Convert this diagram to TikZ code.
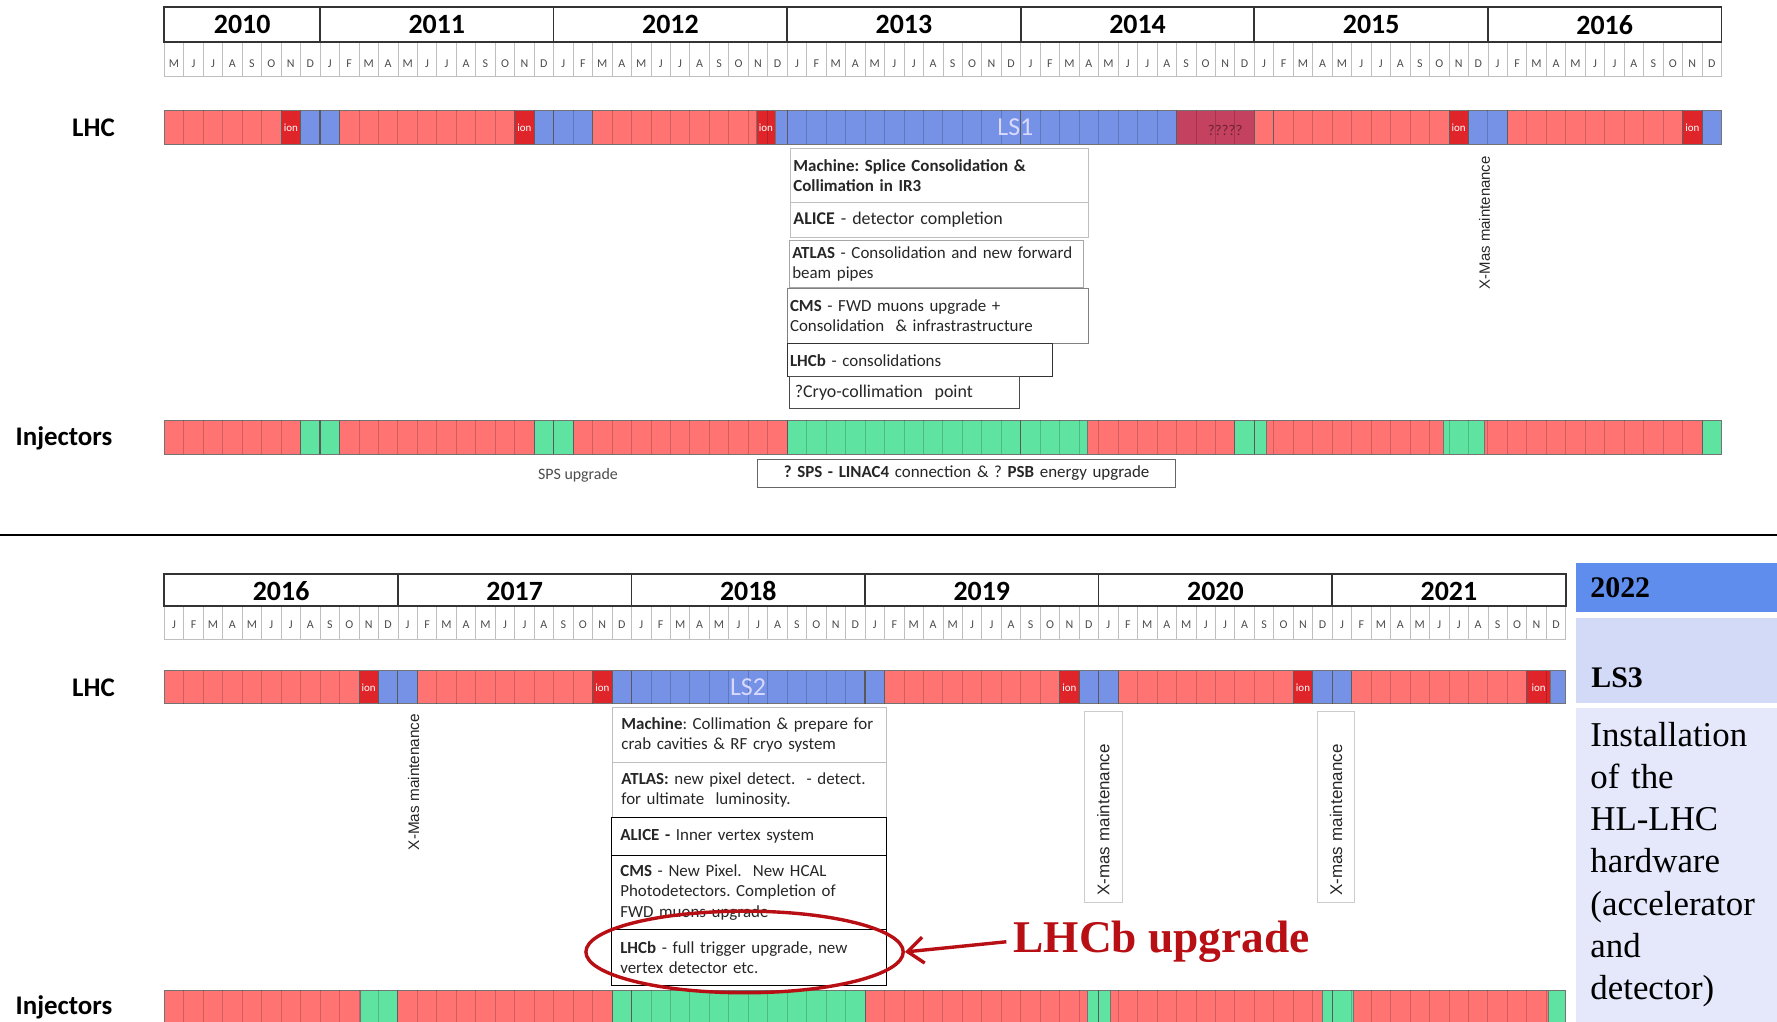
\documentclass[tikz,border=0pt]{standalone}
\usepackage{fontspec}
\setmainfont{Carlito}
\newfontfamily\timesfam{Liberation Serif}
\newfontfamily\arialfam{Liberation Sans}
\usetikzlibrary{shapes.geometric,arrows.meta}
\frenchspacing

\definecolor{runred}{HTML}{FF7373}
\definecolor{ionred}{HTML}{E0252A}
\definecolor{stopblue}{HTML}{7592E6}
\definecolor{injgreen}{HTML}{5FE3A1}
\definecolor{unkred}{HTML}{C4415F}
\definecolor{markred}{HTML}{B80F14}
\definecolor{lsblue}{HTML}{5F8DEE}
\definecolor{lspale}{HTML}{D3DAF7}
\definecolor{lspaler}{HTML}{E4E8FA}

\newcommand{\notefont}{\fontsize{8.5}{10.2}\selectfont}
\def\mlist{J,F,M,A,M,J,J,A,S,O,N,D}

\begin{document}
\begin{tikzpicture}[x=0.2mm,y=-0.2mm,
  run/.style={fill=runred,draw=black!55,line width=0.15mm},
  ion/.style={fill=ionred,draw=black!55,line width=0.15mm},
  tech/.style={fill=stopblue,draw=black!55,line width=0.15mm},
  inj/.style={fill=injgreen,draw=black!55,line width=0.15mm},
  unk/.style={fill=unkred,draw=black!55,line width=0.15mm},
  gridln/.style={black,opacity=0.18,line width=0.15mm},
  yearln/.style={black!65,line width=0.2mm},
  rowlab/.style={font=\fontsize{13.5}{15}\selectfont\bfseries},
  yearlab/.style={font=\fontsize{14}{15}\selectfont\bfseries},
  monthlab/.style={font=\fontsize{6}{7}\selectfont,text=black!70,inner sep=0},
  ionlab/.style={font=\fontsize{5.5}{6}\selectfont,text=white,inner sep=0},
  lslab/.style={font=\fontsize{13}{14}\selectfont,text=blue!15!white},
  note/.style={draw=black!35,anchor=north west,inner xsep=1.5pt,inner ysep=1pt,
    align=left,font=\notefont,text=black!85},
  noteb/.style={note,inner xsep=1.6mm},
  xmas/.style={rotate=90,font=\arialfam\fontsize{7.5}{9}\selectfont,text=black!85},
  xmasbox/.style={xmas,draw=black!20,font=\arialfam\fontsize{8.5}{10}\selectfont,
    minimum width=33.4mm,minimum height=6.6mm,text width=31.4mm,align=left}]
\useasboundingbox (0,0) rectangle (1568,901);
\clip (0,0) rectangle (1568,901);
\def\xo{145}
\def\mw{17.175}

% ---------------- 2010 - 2016 ----------------
\draw[black!25] (\xo,37) rectangle ({\xo+80*\mw},67.5);
\foreach \i in {1,...,79}
  \draw[black!25] ({\xo+\i*\mw},37) -- ++(0,30.5);
\draw[black!80,line width=0.35mm] (\xo,6.5) rectangle ({\xo+80*\mw},37);
\foreach \i in {8,20,...,68}
  \draw[black!80,line width=0.3mm] ({\xo+\i*\mw},6.5) -- ++(0,30.5);
\node[yearlab] (yt2010) at ({\xo+4*\mw},22) {2010};
\foreach \yr [count=\k from 0] in {2011,...,2016}
  \node[yearlab] (yt\yr) at ({\xo+(14+12*\k)*\mw},22) {\yr};
\foreach \m [count=\i from 0] in {M,J,J,A,S,O,N,D}
  \node[monthlab] (mt0-\i) at ({\xo+(\i+0.5)*\mw},56) {\m};
\foreach \k in {1,...,6}
  \foreach \m [count=\i from 0] in \mlist
    \node[monthlab] (mt\k-\i) at ({\xo+(12*\k-4+\i+0.5)*\mw},56) {\m};

\node[rowlab] (lhct) at (82.5,113) {LHC};
\node[rowlab] (injt) at (56.5,387) {Injectors};

% LHC bar
\foreach \a/\b/\s in {0/6/run,6/7/ion,7/9/tech,9/18/run,18/19/ion,19/22/tech,
    22/30.4/run,30.4/31.4/ion,31.4/52/tech,52/56/unk,56/57/run,57/66/run,
    66/67/ion,67/69/tech,69/78/run,78/79/ion,79/80/tech}
  \draw[\s] ({\xo+\a*\mw},97.5) rectangle ({\xo+\b*\mw},127.5);
\foreach \i in {1,...,79}
  \draw[gridln] ({\xo+\i*\mw},97.5) -- ++(0,30);
\foreach \i in {8,20,32,44}
  \draw[yearln] ({\xo+\i*\mw},97.5) -- ++(0,30);
\foreach \c [count=\n] in {6.5,18.5,30.9,66.5,78.5}
  \node[ionlab] (iont\n) at ({\xo+\c*\mw},112.5) {ion};
\node[lslab] (ls1) at (896,112) {LS1};
\node[font=\fontsize{7.5}{8}\selectfont,text=unkred!55!black] (unkt) at ({\xo+54.5*\mw},115) {?????};

% injectors bar
\foreach \a/\b/\s in {0/7/run,7/9/inj,9/19/run,19/21/inj,21/32/run,32/47.4/inj,
    47.4/55/run,55/56.6/inj,56.6/65.7/run,65.7/67.8/inj,67.8/79/run,79/80/inj}
  \draw[\s] ({\xo+\a*\mw},371) rectangle ({\xo+\b*\mw},401);
\foreach \i in {1,...,79}
  \draw[gridln] ({\xo+\i*\mw},371) -- ++(0,30);
\foreach \i in {8,20,32,44,56}
  \draw[yearln] ({\xo+\i*\mw},371) -- ++(0,30);

% LS1 work list
\node[note,draw=black!25,minimum width=52.6mm,text width=51.5mm,minimum height=9.4mm]
  (mach1) at (697,131) {\textbf{Machine: Splice Consolidation \&}\\\textbf{Collimation in IR3}};
\node[note,draw=black!25,minimum width=52.6mm,text width=51.5mm,minimum height=6.2mm,
  font=\fontsize{9}{10.5}\selectfont] (alice1) at (697,178) {\textbf{ALICE} - detector completion};
\node[note,minimum width=52mm,text width=50.9mm,minimum height=8.2mm]
  (atlas1) at (696,212) {\textbf{ATLAS} - Consolidation and new forward\\beam pipes};
\node[note,draw=black!50,minimum width=53.2mm,text width=52.1mm,minimum height=9.8mm]
  (cms1) at (694,254) {\textbf{CMS} - FWD muons upgrade +\\Consolidation\ \ \& infrastrastructure};
\node[note,draw=black!80,minimum width=46.8mm,text width=45.7mm,minimum height=5.8mm]
  (lhcb1) at (694,303) {\textbf{LHCb} - consolidations};
\node[note,draw=black!70,minimum width=40.6mm,text width=38.6mm,inner xsep=1mm,minimum height=5.6mm,
  font=\fontsize{9}{10.5}\selectfont] (cryo1) at (696,332) {?Cryo-collimation\ \ point};
\node[note,draw=black!60,minimum width=73.8mm,text width=72.7mm,minimum height=5mm,align=center]
  (linac) at (668,405) {\textbf{? SPS - LINAC4} connection \& ? \textbf{PSB} energy upgrade};
\node[font=\fontsize{8}{9}\selectfont,text=black!70] (spsup) at (510,419) {SPS upgrade};
\node[xmas] (xmas1) at (1310,196.5) {X-Mas maintenance};

\draw[line width=0.35mm] (0,472) -- (1568,472);

% ---------------- 2016 - 2022 ----------------
\draw[black!25] (\xo,535) rectangle ({\xo+72*\mw},564);
\foreach \i in {1,...,71}
  \draw[black!25] ({\xo+\i*\mw},535) -- ++(0,29);
\draw[black!80,line width=0.35mm] (\xo,506.5) rectangle ({\xo+72*\mw},535);
\foreach \i in {12,24,...,60}
  \draw[black!80,line width=0.3mm] ({\xo+\i*\mw},506.5) -- ++(0,28.5);
\foreach \yr [count=\k from 0] in {2016,...,2021}
  \node[yearlab] (yb\yr) at ({\xo+(6+12*\k)*\mw},521.5) {\yr};
\foreach \k in {0,...,5}
  \foreach \m [count=\i from 0] in \mlist
    \node[monthlab] (mb\k-\i) at ({\xo+(12*\k+\i+0.5)*\mw},551) {\m};

\node[rowlab] (lhcb) at (82.5,607) {LHC};
\node[rowlab] (injb) at (56.5,889) {Injectors};

% LHC bar
\foreach \a/\b/\s in {0/10/run,10/11/ion,11/13/tech,13/22/run,22/23/ion,23/37/tech,
    37/46/run,46/47/ion,47/49/tech,49/58/run,58/59/ion,59/61/tech,61/70/run,
    70/71.2/ion,71.2/72/tech}
  \draw[\s] ({\xo+\a*\mw},592) rectangle ({\xo+\b*\mw},621);
\foreach \i in {1,...,71}
  \draw[gridln] ({\xo+\i*\mw},592) -- ++(0,29);
\foreach \i in {12,24,36,48,60}
  \draw[yearln] ({\xo+\i*\mw},592) -- ++(0,29);
\foreach \c [count=\n] in {10.5,22.5,46.5,58.5,70.6}
  \node[ionlab] (ionb\n) at ({\xo+\c*\mw},606.5) {ion};
\node[lslab] (ls2) at (660,606) {LS2};

% injectors bar
\foreach \a/\b/\s in {0/10.1/run,10.1/12/inj,12/23/run,23/36/inj,36/47.4/run,
    47.4/48.6/inj,48.6/59.5/run,59.5/61.1/inj,61.1/71.1/run,71.1/72/inj}
  \draw[\s] ({\xo+\a*\mw},873.5) rectangle ({\xo+\b*\mw},910);
\foreach \i in {1,...,71}
  \draw[gridln] ({\xo+\i*\mw},873.5) -- ++(0,30);
\foreach \i in {24,48,60}
  \draw[yearln] ({\xo+\i*\mw},873.5) -- ++(0,30);

% LS2 work list
\node[noteb,draw=black!25,minimum width=48.4mm,text width=45.2mm,minimum height=9.6mm]
  (mach2) at (540,624) {\textbf{Machine}: Collimation \& prepare for\\crab cavities \& RF cryo system};
\node[noteb,draw=black!25,minimum width=48.4mm,text width=45.2mm,minimum height=9.8mm]
  (atlas2) at (540,672) {\textbf{ATLAS:} new pixel detect.\ \ - detect.\\for ultimate\ \ luminosity.};
\node[noteb,draw=black,minimum width=48.6mm,text width=45.4mm,minimum height=6.6mm]
  (alice2) at (539,721) {\textbf{ALICE -} Inner vertex system};
\node[noteb,draw=black,minimum width=48.6mm,text width=45.4mm,minimum height=13.2mm]
  (cms2) at (539,754) {\textbf{CMS} - New Pixel.\ \ New HCAL\\Photodetectors. Completion of\\FWD muons upgrade};
\node[noteb,draw=black,minimum width=48.6mm,text width=45.4mm,minimum height=9.8mm]
  (lhcb2) at (539,820) {\textbf{LHCb} - full trigger upgrade, new\\vertex detector etc.};

\node[xmas,font=\arialfam\fontsize{7.7}{9}\selectfont] (xmas2) at (365,690) {X-Mas maintenance};
\node[xmasbox] (xmas3) at (973.5,712) {X-mas maintenance};
\node[xmasbox] (xmas4) at (1179,712) {X-mas maintenance};

% highlight
\node[draw=markred,line width=0.6mm,ellipse,minimum width=56mm,minimum height=14.4mm,inner sep=0]
  (ring) at (657,840) {};
\node[anchor=west,text=markred,font=\timesfam\fontsize{22.8}{24}\selectfont\bfseries]
  (upg) at (888,831) {LHCb upgrade};
\draw[markred,line width=0.6mm,-{Straight Barb[length=2.8mm,width=4.6mm]}] (upg.west) -- (ring.east);

% 2022 panel
\node[fill=lsblue,anchor=north west,minimum width=35.6mm,minimum height=8.8mm,inner xsep=2.6mm,
  text width=30.4mm,align=left,font=\timesfam\fontsize{15}{18}\selectfont\bfseries] (p2022) at (1390,496) {2022};
\node[fill=lspale,anchor=north west,minimum width=35.6mm,minimum height=15mm,inner sep=0] (pls3) at (1390,545) {};
\node[anchor=west,font=\timesfam\fontsize{15}{18}\selectfont\bfseries] (ls3) at (1398,598) {LS3};
\node[fill=lspaler,anchor=north west,minimum width=35.6mm,minimum height=55.4mm,inner xsep=2.6mm,
  text width=30.4mm,align=left,font=\timesfam\fontsize{17.5}{21.2}\selectfont]
  (pinst) at (1390,624) {Installation\\of the\\HL-LHC\\hardware\\(accelerator\\and\\detector)};
\end{tikzpicture}
\end{document}
